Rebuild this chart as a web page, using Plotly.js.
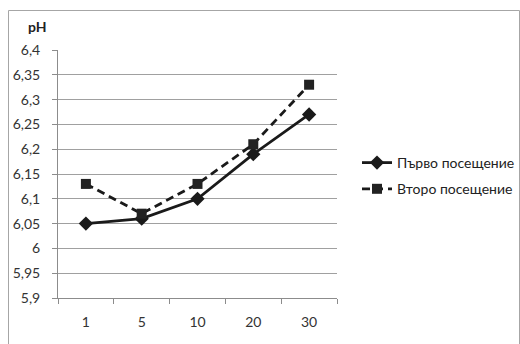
<!DOCTYPE html>
<html>
<head>
<meta charset="utf-8">
<script src="https://cdn.plot.ly/plotly-3.0.1.min.js"></script>
<style>
  html, body { margin: 0; padding: 0; background: #fff; }
  #chart { width: 520px; height: 344px; }
</style>
</head>
<body>
<div id="chart"></div>
<script>
// Days of measurement
const days = ['1', '5', '10', '20', '30'];

// pH values per visit
const firstVisit = [6.05, 6.06, 6.10, 6.19, 6.27];
const secondVisit = [6.13, 6.07, 6.13, 6.21, 6.33];

// Series names
const firstName = 'Първо посещение';
const secondName = 'Второ посещение';

// Y axis ticks
const yTickVals = [5.9, 5.95, 6, 6.05, 6.1, 6.15, 6.2, 6.25, 6.3, 6.35, 6.4];
const yTickText = ['5,9', '5,95', '6', '6,05', '6,1', '6,15', '6,2', '6,25', '6,3', '6,35', '6,4'];

const fontFamily = 'Lato, "Open Sans", sans-serif';
const ink = '#1a1a1a';

const traces = [
  {
    x: days, y: firstVisit, name: firstName, legendgroup: 'a',
    type: 'scatter', mode: 'lines+markers',
    line: { color: ink, width: 2.8 },
    marker: { symbol: 'diamond', size: 11, color: ink }
  },
  {
    x: days, y: secondVisit, name: secondName, legendgroup: 'b',
    type: 'scatter', mode: 'lines+markers',
    line: { color: ink, width: 2.8, dash: '8px,5px' },
    marker: { symbol: 'square', size: 10, color: '#222' }
  }
];

// Plot area spans 58..337 px horizontally and 50..298 px vertically
const W = 279, H = 248;
const px = v => (v - 58) / W;
const py = v => (298 - v) / H;

const layout = {
  width: 520, height: 344,
  margin: { l: 58, r: 183, t: 50, b: 46, autoexpand: false },
  paper_bgcolor: '#fff', plot_bgcolor: '#fff',
  font: { family: fontFamily, size: 14, color: '#333' },
  showlegend: true,
  legend: {
    x: px(357), y: py(176), xanchor: 'left', yanchor: 'middle',
    font: { family: fontFamily, size: 14, color: '#222' },
    tracegroupgap: 5, bgcolor: 'rgba(0,0,0,0)', itemwidth: 30
  },
  xaxis: {
    type: 'category', range: [-0.5, 4.5],
    showgrid: false, zeroline: false,
    showline: true, linecolor: '#8c8c8c', linewidth: 1,
    ticks: 'outside', tickson: 'boundaries', ticklen: 5, tickcolor: '#8c8c8c',
    ticklabelstandoff: 11,
    tickfont: { family: fontFamily, size: 14, color: '#333' },
    fixedrange: true
  },
  yaxis: {
    range: [5.9, 6.4],
    tickmode: 'array', tickvals: yTickVals, ticktext: yTickText,
    showgrid: true, gridcolor: '#a0a0a0', gridwidth: 1,
    zeroline: false,
    showline: true, linecolor: '#8c8c8c', linewidth: 1,
    ticks: 'outside', ticklen: 5, tickcolor: '#8c8c8c',
    ticklabelstandoff: 9,
    tickfont: { family: fontFamily, size: 14, color: '#333' },
    fixedrange: true
  },
  annotations: [
    {
      xref: 'paper', yref: 'paper', x: px(37), y: py(27),
      text: '<b>pH</b>', showarrow: false,
      xanchor: 'center', yanchor: 'middle',
      font: { family: fontFamily, size: 14, color: '#222' }
    }
  ],
  shapes: [
    {
      type: 'rect', xref: 'paper', yref: 'paper',
      x0: px(8.5), x1: px(519.5), y0: py(360), y1: py(10.5),
      line: { color: '#a6a6a6', width: 1 }, fillcolor: 'rgba(0,0,0,0)',
      layer: 'below'
    }
  ]
};

Plotly.newPlot('chart', traces, layout, { displayModeBar: false, staticPlot: true });
</script>
</body>
</html>
